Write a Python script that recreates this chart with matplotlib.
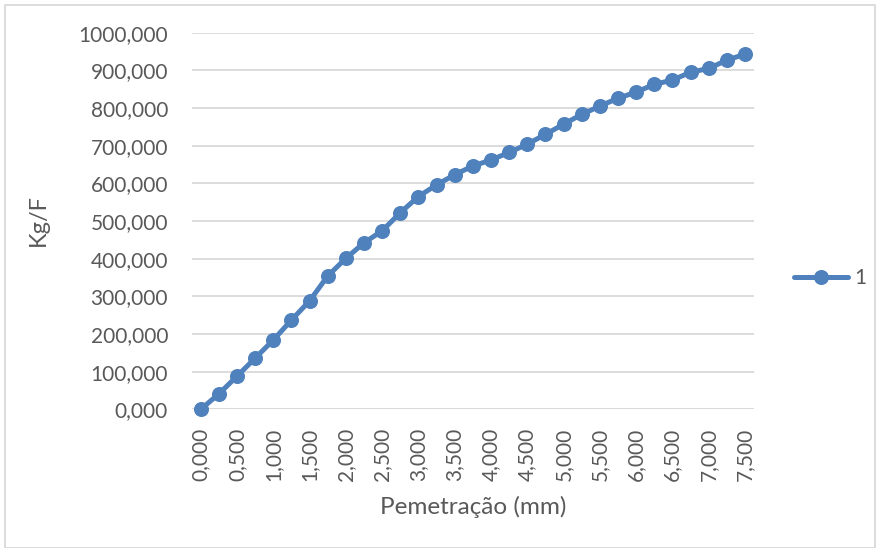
import matplotlib
matplotlib.use("Agg")
import matplotlib.pyplot as plt
from matplotlib.patches import Rectangle
from matplotlib.lines import Line2D

penetration = [0.00, 0.25, 0.50, 0.75, 1.00, 1.25, 1.50, 1.75, 2.00, 2.25, 2.50,
               2.75, 3.00, 3.25, 3.50, 3.75, 4.00, 4.25, 4.50, 4.75, 5.00,
               5.25, 5.50, 5.75, 6.00, 6.25, 6.50, 6.75, 7.00, 7.25, 7.50]
load = [0, 41, 88, 136, 184, 237, 288, 354, 401, 442, 474,
        522, 565, 596, 623, 646, 662, 682, 704, 730, 757,
        783, 805, 826, 842, 863, 874, 895, 905, 927, 943]
y_ticks = [0, 100, 200, 300, 400, 500, 600, 700, 800, 900, 1000]
series_name = "1"

plt.rcParams['font.family'] = ['Lato', 'DejaVu Sans']
text_color = '#595959'
line_color = '#4f81bd'
grid_color = '#d9d9d9'

fig = plt.figure(figsize=(8.8, 5.48), dpi=100)
ax = fig.add_axes([191.7/880, 1-409.3/548, (754-191.7)/880, (409.3-32.7)/548])

idx = list(range(len(penetration)))
ax.plot(idx, load, color=line_color, lw=3.6, marker='o', ms=9.8,
        solid_capstyle='round', solid_joinstyle='round', zorder=3,
        clip_on=False)

ax.set_xlim(-0.5, len(penetration) - 0.5)
ax.set_ylim(0, 1000)
ax.set_yticks(y_ticks)
ax.set_yticklabels([f"{v:.3f}".replace('.', ',') for v in y_ticks])
ax.set_xticks(idx[::2])
ax.set_xticklabels([f"{penetration[i]:.3f}".replace('.', ',') for i in idx[::2]],
                   rotation=90)
ax.yaxis.grid(True, color=grid_color, lw=1.3)
ax.set_axisbelow(True)
for s in ax.spines.values():
    s.set_visible(False)
ax.tick_params(axis='both', length=0, labelsize=15, colors=text_color)
ax.tick_params(axis='y', pad=17)
ax.tick_params(axis='x', pad=13.5)
ax.axhline(0, color=grid_color, lw=1.3, zorder=1)

fig.text(38/880, 1-220/548, "Kg/F", rotation=90, ha='center', va='center',
         fontsize=17, color=text_color)
fig.text(473/880, 1-507/548, "Pemetração (mm)", ha='center', va='center',
         fontsize=17.5, color=text_color)

# legend
handle = Line2D([], [], color=line_color, lw=3.6, marker='o', ms=9.8,
                solid_capstyle='round')
leg = fig.legend([handle], [series_name], loc='center left',
                 bbox_to_anchor=(794/880, 1-278/548), frameon=False,
                 fontsize=15, handlelength=2.6, handletextpad=0.3,
                 borderpad=0, borderaxespad=0)
for t in leg.get_texts():
    t.set_color(text_color)

fig.patches.append(Rectangle((5/880, 0.5/548), 870/880, 542.5/548,
                             transform=fig.transFigure, fill=False,
                             edgecolor=grid_color, lw=1.3))

fig.savefig("out.png", dpi=100)
